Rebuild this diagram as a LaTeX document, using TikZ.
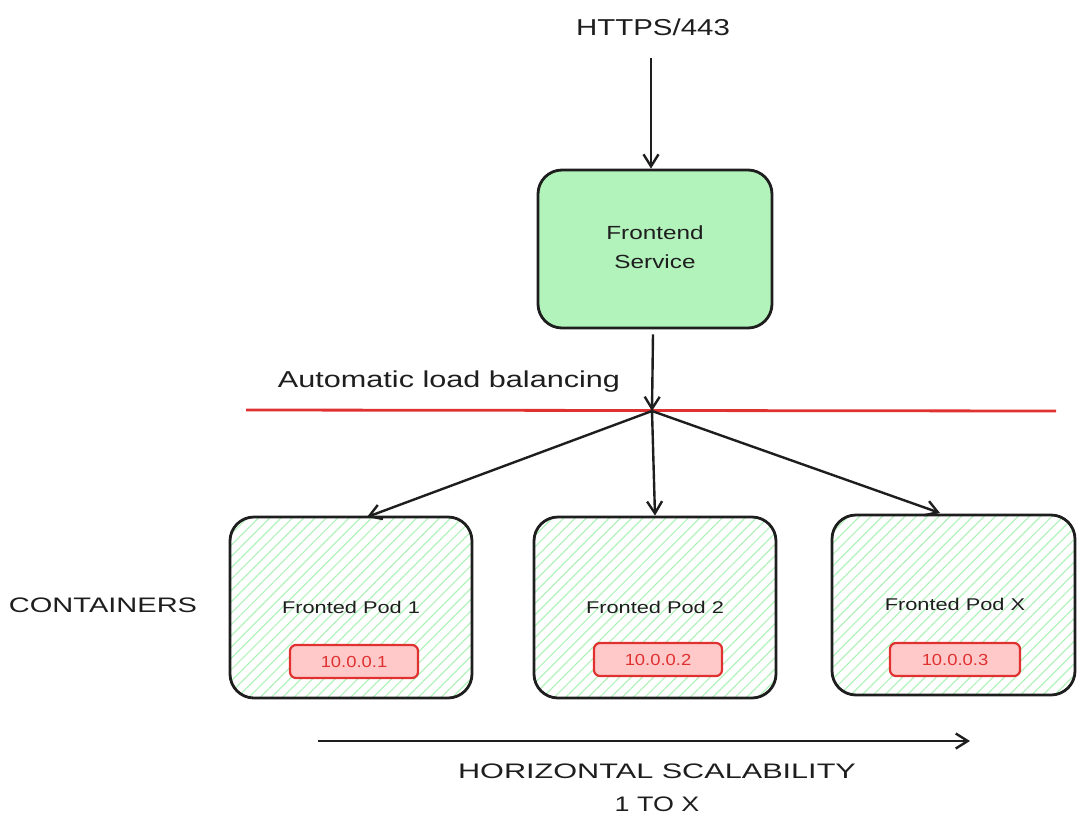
\documentclass[tikz,border=0pt]{standalone}
\usepackage{fontspec}
\setmainfont{Liberation Sans}
\usetikzlibrary{arrows.meta,patterns.meta}
\definecolor{boxgreen}{HTML}{B2F2BB}
\definecolor{hatchgreen}{HTML}{B2F2BB}
\definecolor{lred}{HTML}{E03131}
\definecolor{pinkfill}{HTML}{FFC9C9}
\definecolor{ink}{HTML}{1E1E1E}
\tikzset{
  svcbox/.style={draw=ink, line width=2.8pt, rounded corners=24pt, fill=boxgreen, inner sep=0pt},
  podbox/.style={draw=ink, line width=2.8pt, rounded corners=24pt, pattern={Lines[angle=45,distance=8pt,line width=1.2pt]}, pattern color=hatchgreen, inner sep=0pt},
  ipbox/.style={draw=lred, line width=2.2pt, rounded corners=6pt, fill=pinkfill, inner sep=0pt, minimum height=33pt},
  iptext/.style={text=lred, inner sep=0pt, xscale=1.15, font=\fontsize{16}{18}\selectfont},
  conn/.style={draw=ink, line width=2.4pt, -{Straight Barb[length=12pt,width=15pt,line width=2.4pt]}},
  lbl/.style={text=ink, inner sep=0pt, xscale=1.28},
}
\begin{document}
\begin{tikzpicture}[x=1pt,y=-1pt]
\useasboundingbox (0,0) rectangle (1085,833);
% texts
\node[lbl, font=\fontsize{23}{26}\selectfont] (https) at (653,27) {HTTPS/443};
\node[lbl, font=\fontsize{23}{26}\selectfont, xscale=1.04] (alb) at (449,382) {Automatic load balancing};
\node[lbl, font=\fontsize{21}{24}\selectfont, xscale=1.08] (cont) at (103,605) {CONTAINERS};
\node[lbl, font=\fontsize{21}{24}\selectfont, xscale=1.14] (hs1) at (657,771) {HORIZONTAL SCALABILITY};
\node[lbl, font=\fontsize{21}{24}\selectfont] (hs2) at (657,804) {1 TO X};
% service
\node[svcbox, minimum width=234pt, minimum height=158pt] (svc) at (655,249) {};
\node[lbl, align=center, font=\fontsize{19}{29}\selectfont] (svct) at (655,247) {Frontend\\Service};
% red line
\coordinate (rl1) at (246,410);
\coordinate (rl2) at (1056,411);
\draw[lred, line width=2.8pt] (rl1) -- (rl2);
\coordinate (hub) at (652,411);
% pods
\node[podbox, minimum width=242pt, minimum height=181pt] (pod1) at (351,607.5) {};
\node[podbox, minimum width=242pt, minimum height=181pt] (pod2) at (655,607.5) {};
\node[podbox, minimum width=243pt, minimum height=180pt] (podx) at (953.5,605) {};
\node[lbl, font=\fontsize{17}{19}\selectfont] (t1) at (351,607) {Fronted Pod 1};
\node[lbl, font=\fontsize{17}{19}\selectfont] (t2) at (655,607) {Fronted Pod 2};
\node[lbl, font=\fontsize{17}{19}\selectfont] (tx) at (955,604) {Fronted Pod X};
\node[ipbox, minimum width=128pt] (ip1) at (354,661.5) {};
\node[ipbox, minimum width=128pt] (ip2) at (658,659.5) {};
\node[ipbox, minimum width=130pt] (ipx) at (955,659.5) {};
\node[iptext] (ip1t) at (ip1) {10.0.0.1};
\node[iptext] (ip2t) at (ip2) {10.0.0.2};
\node[iptext] (ipxt) at (ipx) {10.0.0.3};
% connectors
\coordinate (top) at (651,58);
\draw[conn] (top) -- (svc.north -| top);
\draw[conn] (svc.south) ++(-2,5) -- (hub);
\draw[conn] (hub) -- (367,517);
\draw[conn] (hub) -- (pod2.north);
\draw[conn] (hub) -- (940,513);
% scalability arrow
\coordinate (sa) at (318,741);
\coordinate (sb) at (970,741);
\draw[conn] (sa) -- (sb);
\end{tikzpicture}
\end{document}
